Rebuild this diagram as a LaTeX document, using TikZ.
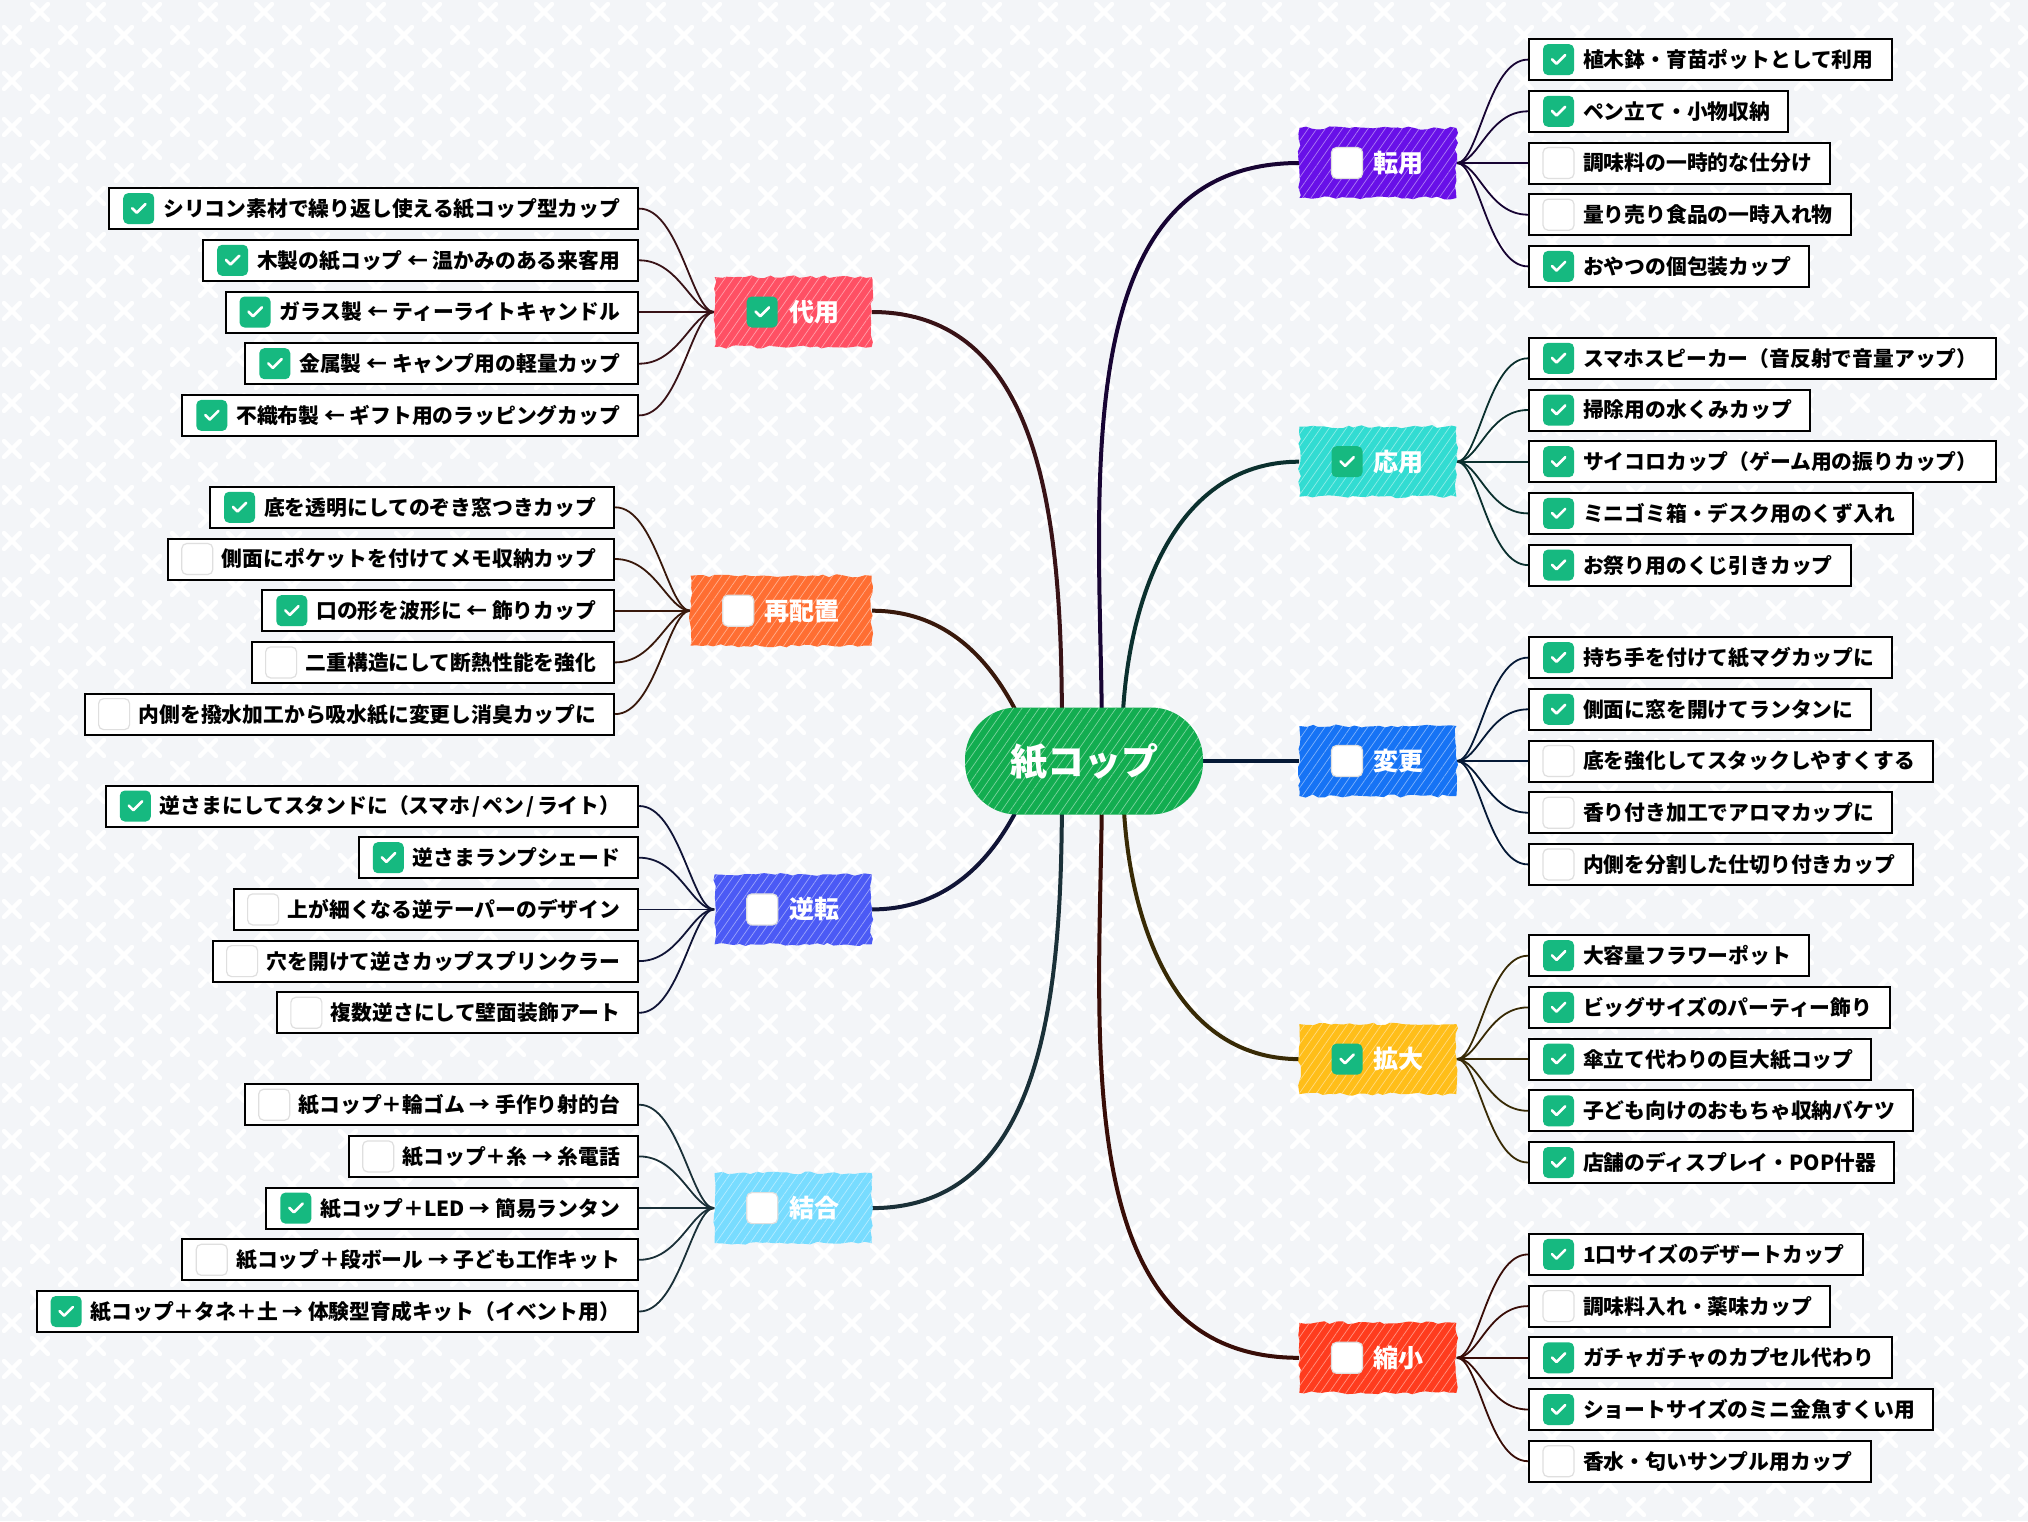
\documentclass[tikz,border=0pt]{standalone}
\usepackage{fontspec}
\newfontfamily\jpf{Noto Sans CJK JP}
\usetikzlibrary{decorations.pathmorphing,patterns.meta}
\pgfdeclarelayer{back}\pgfdeclarelayer{lines}
\pgfsetlayers{back,lines,main}
\definecolor{bgc}{RGB}{243,245,248}
\definecolor{ckg}{RGB}{22,185,128}
\definecolor{cCenter}{RGB}{18,173,80}
\definecolor{cTen}{RGB}{104,16,232}
\definecolor{cOu}{RGB}{50,220,210}
\definecolor{cHen}{RGB}{22,115,245}
\definecolor{cKaku}{RGB}{255,190,25}
\definecolor{cShuku}{RGB}{255,60,30}
\definecolor{cDai}{RGB}{255,80,100}
\definecolor{cSai}{RGB}{255,110,50}
\definecolor{cGya}{RGB}{75,90,245}
\definecolor{cKet}{RGB}{120,220,255}
\tikzset{
 leaf/.style={draw=black, line width=1pt, fill=white,
   font=\jpf\bfseries\fontsize{10.4}{12}\selectfont,
   text height=9.15pt, text depth=1.25pt, inner xsep=9pt, inner ysep=0pt,
   minimum height=20.5pt},
 mainbox/.style={fill=#1, text=white,
   font=\jpf\bfseries\fontsize{12.5}{14}\selectfont,
   text height=11pt, text depth=1.5pt, minimum height=35pt, minimum width=78.5pt,
   inner xsep=16pt, inner ysep=0pt,
   decorate, decoration={random steps,segment length=3pt,amplitude=0.8pt},
   postaction={pattern={Lines[angle=55,distance=3.5pt,line width=0.35pt]}, pattern color=#1!55!white}},
 centerbox/.style={fill=cCenter, text=white, rounded corners=26pt,
   font=\jpf\bfseries\fontsize{18.5}{20}\selectfont,
   text height=16.3pt, text depth=2.2pt, minimum height=53.5pt, minimum width=119pt,
   postaction={pattern={Lines[angle=55,distance=3.5pt,line width=0.35pt]}, pattern color=cCenter!55!white}},
 cbon/.style={fill=ckg, rounded corners=2.5pt, minimum size=15.5pt, inner sep=0pt},
 cboff/.style={fill=white, draw=gray!25, line width=0.6pt, rounded corners=2.5pt, minimum size=15.5pt, inner sep=0pt},
 chkmark/.style={draw=white, line width=1.3pt, line cap=round, line join=round},
 trunk/.style={draw=#1!22!black, line width=2pt},
 leafline/.style={draw=#1!22!black, line width=0.9pt},
}
\newcommand{\Cbox}[3]{%
 \ifnum#2=1
   \node[cbon] (#1-cb) at ([xshift=#3]#1.west) {};
   \draw[chkmark] ([shift={(-3.3pt,0.2pt)}]#1-cb.center) -- ([shift={(-1pt,-2.1pt)}]#1-cb.center) -- ([shift={(3.4pt,2.3pt)}]#1-cb.center);
 \else
   \node[cboff] (#1-cb) at ([xshift=#3]#1.west) {};
 \fi}
\newcommand{\MainR}[5]{%
 \node[mainbox=#3, anchor=west] (#1) at (1299,#2) {\hspace*{21pt}#5};
 \Cbox{#1}{#4}{24pt}}
\newcommand{\MainL}[5]{%
 \node[mainbox=#3, anchor=east] (#1) at (872,#2) {\hspace*{21pt}#5};
 \Cbox{#1}{#4}{24pt}}
% name, parent, y, checked, text, color
\newcommand{\LeafR}[6]{%
 \node[leaf, anchor=west] (#1) at (1528,#3) {\hspace*{18pt}#5};
 \Cbox{#1}{#4}{15.25pt}
 \begin{pgfonlayer}{lines}
 \draw[leafline=#6] (#2.east) .. controls +(22,0) and +(-40,0) .. (#1.west);
 \end{pgfonlayer}}
\newcommand{\LeafL}[6]{%
 \coordinate (#1-x) at ([xshift=-37.5pt]#2.west);
 \coordinate (#1-y) at (0,#3);
 \node[leaf, anchor=east] (#1) at (#1-x |- #1-y) {\hspace*{18pt}#5};
 \Cbox{#1}{#4}{15.25pt}
 \begin{pgfonlayer}{lines}
 \draw[leafline=#6] (#2.west) .. controls +(-22,0) and +(40,0) .. (#1.east);
 \end{pgfonlayer}}
\begin{document}
\begin{tikzpicture}[x=0.5pt,y=-0.5pt]
\pgfmathsetseed{7}
\useasboundingbox (0,0) rectangle (2028,1521);
\begin{pgfonlayer}{back}
\fill[bgc] (0,0) rectangle (2028,1521);
\draw[white, line width=2.2pt, line cap=round]
  foreach \i in {0,...,36} { foreach \k in {0,...,33} {
   ({40+56*\i-8},{12+46*\k-8}) -- ++(16,16) ({40+56*\i-8},{12+46*\k+8}) -- ++(16,-16)
   ({12+56*\i-8},{35+46*\k-8}) -- ++(16,16) ({12+56*\i-8},{35+46*\k+8}) -- ++(16,-16) } };
\end{pgfonlayer}

% center
\node[centerbox] (center) at (1084,761) {紙コップ};
\coordinate (pA) at (1062,745);
\coordinate (pB) at (1035,755);
\coordinate (pC) at (1035,768);
\coordinate (pD) at (1062,778);
\coordinate (pE) at (1102,745);
\coordinate (pF) at (1122,745);
\coordinate (pG) at (1123,778);
\coordinate (pH) at (1102,778);

% main nodes
\MainR{tenyo}{163}{cTen}{0}{転用}
\MainR{ouyo}{461.7}{cOu}{1}{応用}
\MainR{henko}{761}{cHen}{0}{変更}
\MainR{kakudai}{1059.1}{cKaku}{1}{拡大}
\MainR{shukusho}{1357.8}{cShuku}{0}{縮小}
\MainL{daiyo}{312}{cDai}{1}{代用}
\MainL{saihaichi}{610.7}{cSai}{0}{再配置}
\MainL{gyakuten}{909.4}{cGya}{0}{逆転}
\MainL{ketsugo}{1208.1}{cKet}{0}{結合}

\begin{pgfonlayer}{lines}
\draw[trunk=cDai] (daiyo.east) to[out=0,in=90] (pA);
\draw[trunk=cSai] (saihaichi.east) to[out=0,in=110] (pB);
\draw[trunk=cGya] (gyakuten.east) to[out=0,in=-110] (pC);
\draw[trunk=cKet] (ketsugo.east) to[out=0,in=-90] (pD);
\draw[trunk=cTen] (tenyo.west) to[out=180,in=90] (pE);
\draw[trunk=cOu] (ouyo.west) to[out=180,in=90] (pF);
\draw[trunk=cHen] (center.east) -- (henko.west);
\draw[trunk=cKaku] (kakudai.west) to[out=180,in=-90] (pG);
\draw[trunk=cShuku] (shukusho.west) to[out=180,in=-90] (pH);
\end{pgfonlayer}

% 転用
\LeafR{t1}{tenyo}{59.6}{1}{植木鉢・育苗ポットとして利用}{cTen}
\LeafR{t2}{tenyo}{111.3}{1}{ペン立て・小物収納}{cTen}
\LeafR{t3}{tenyo}{163}{0}{調味料の一時的な仕分け}{cTen}
\LeafR{t4}{tenyo}{214.7}{0}{量り売り食品の一時入れ物}{cTen}
\LeafR{t5}{tenyo}{266.4}{1}{おやつの個包装カップ}{cTen}
% 応用
\LeafR{o1}{ouyo}{358.3}{1}{スマホスピーカー（音反射で音量アップ）}{cOu}
\LeafR{o2}{ouyo}{410}{1}{掃除用の水くみカップ}{cOu}
\LeafR{o3}{ouyo}{461.7}{1}{サイコロカップ（ゲーム用の振りカップ）}{cOu}
\LeafR{o4}{ouyo}{513.4}{1}{ミニゴミ箱・デスク用のくず入れ}{cOu}
\LeafR{o5}{ouyo}{565.1}{1}{お祭り用のくじ引きカップ}{cOu}
% 変更
\LeafR{h1}{henko}{657.6}{1}{持ち手を付けて紙マグカップに}{cHen}
\LeafR{h2}{henko}{709.3}{1}{側面に窓を開けてランタンに}{cHen}
\LeafR{h3}{henko}{761}{0}{底を強化してスタックしやすくする}{cHen}
\LeafR{h4}{henko}{812.7}{0}{香り付き加工でアロマカップに}{cHen}
\LeafR{h5}{henko}{864.4}{0}{内側を分割した仕切り付きカップ}{cHen}
% 拡大
\LeafR{k1}{kakudai}{955.7}{1}{大容量フラワーポット}{cKaku}
\LeafR{k2}{kakudai}{1007.4}{1}{ビッグサイズのパーティー飾り}{cKaku}
\LeafR{k3}{kakudai}{1059.1}{1}{傘立て代わりの巨大紙コップ}{cKaku}
\LeafR{k4}{kakudai}{1110.8}{1}{子ども向けのおもちゃ収納バケツ}{cKaku}
\LeafR{k5}{kakudai}{1162.5}{1}{店舗のディスプレイ・POP什器}{cKaku}
% 縮小
\LeafR{s1}{shukusho}{1254.4}{1}{1口サイズのデザートカップ}{cShuku}
\LeafR{s2}{shukusho}{1306.1}{0}{調味料入れ・薬味カップ}{cShuku}
\LeafR{s3}{shukusho}{1357.8}{1}{ガチャガチャのカプセル代わり}{cShuku}
\LeafR{s4}{shukusho}{1409.5}{1}{ショートサイズのミニ金魚すくい用}{cShuku}
\LeafR{s5}{shukusho}{1461.2}{0}{香水・匂いサンプル用カップ}{cShuku}
% 代用
\LeafL{d1}{daiyo}{208.6}{1}{シリコン素材で繰り返し使える紙コップ型カップ}{cDai}
\LeafL{d2}{daiyo}{260.3}{1}{木製の紙コップ ← 温かみのある来客用}{cDai}
\LeafL{d3}{daiyo}{312}{1}{ガラス製 ← ティーライトキャンドル}{cDai}
\LeafL{d4}{daiyo}{363.7}{1}{金属製 ← キャンプ用の軽量カップ}{cDai}
\LeafL{d5}{daiyo}{415.4}{1}{不織布製 ← ギフト用のラッピングカップ}{cDai}
% 再配置
\LeafL{r1}{saihaichi}{507.3}{1}{底を透明にしてのぞき窓つきカップ}{cSai}
\LeafL{r2}{saihaichi}{559}{0}{側面にポケットを付けてメモ収納カップ}{cSai}
\LeafL{r3}{saihaichi}{610.7}{1}{口の形を波形に ← 飾りカップ}{cSai}
\LeafL{r4}{saihaichi}{662.4}{0}{二重構造にして断熱性能を強化}{cSai}
\LeafL{r5}{saihaichi}{714.1}{0}{内側を撥水加工から吸水紙に変更し消臭カップに}{cSai}
% 逆転
\LeafL{g1}{gyakuten}{806}{1}{逆さまにしてスタンドに（スマホ\kern1.1pt/\kern1.1ptペン\kern1.1pt/\kern1.1ptライト）}{cGya}
\LeafL{g2}{gyakuten}{857.7}{1}{逆さまランプシェード}{cGya}
\LeafL{g3}{gyakuten}{909.4}{0}{上が細くなる逆テーパーのデザイン}{cGya}
\LeafL{g4}{gyakuten}{961.1}{0}{穴を開けて逆さカップスプリンクラー}{cGya}
\LeafL{g5}{gyakuten}{1012.8}{0}{複数逆さにして壁面装飾アート}{cGya}
% 結合
\LeafL{j1}{ketsugo}{1104.7}{0}{紙コップ＋輪ゴム → 手作り射的台}{cKet}
\LeafL{j2}{ketsugo}{1156.4}{0}{紙コップ＋糸 → 糸電話}{cKet}
\LeafL{j3}{ketsugo}{1208.1}{1}{紙コップ＋LED → 簡易ランタン}{cKet}
\LeafL{j4}{ketsugo}{1259.8}{0}{紙コップ＋段ボール → 子ども工作キット}{cKet}
\LeafL{j5}{ketsugo}{1311.5}{1}{紙コップ＋タネ＋土 → 体験型育成キット（イベント用）}{cKet}
\end{tikzpicture}
\end{document}
